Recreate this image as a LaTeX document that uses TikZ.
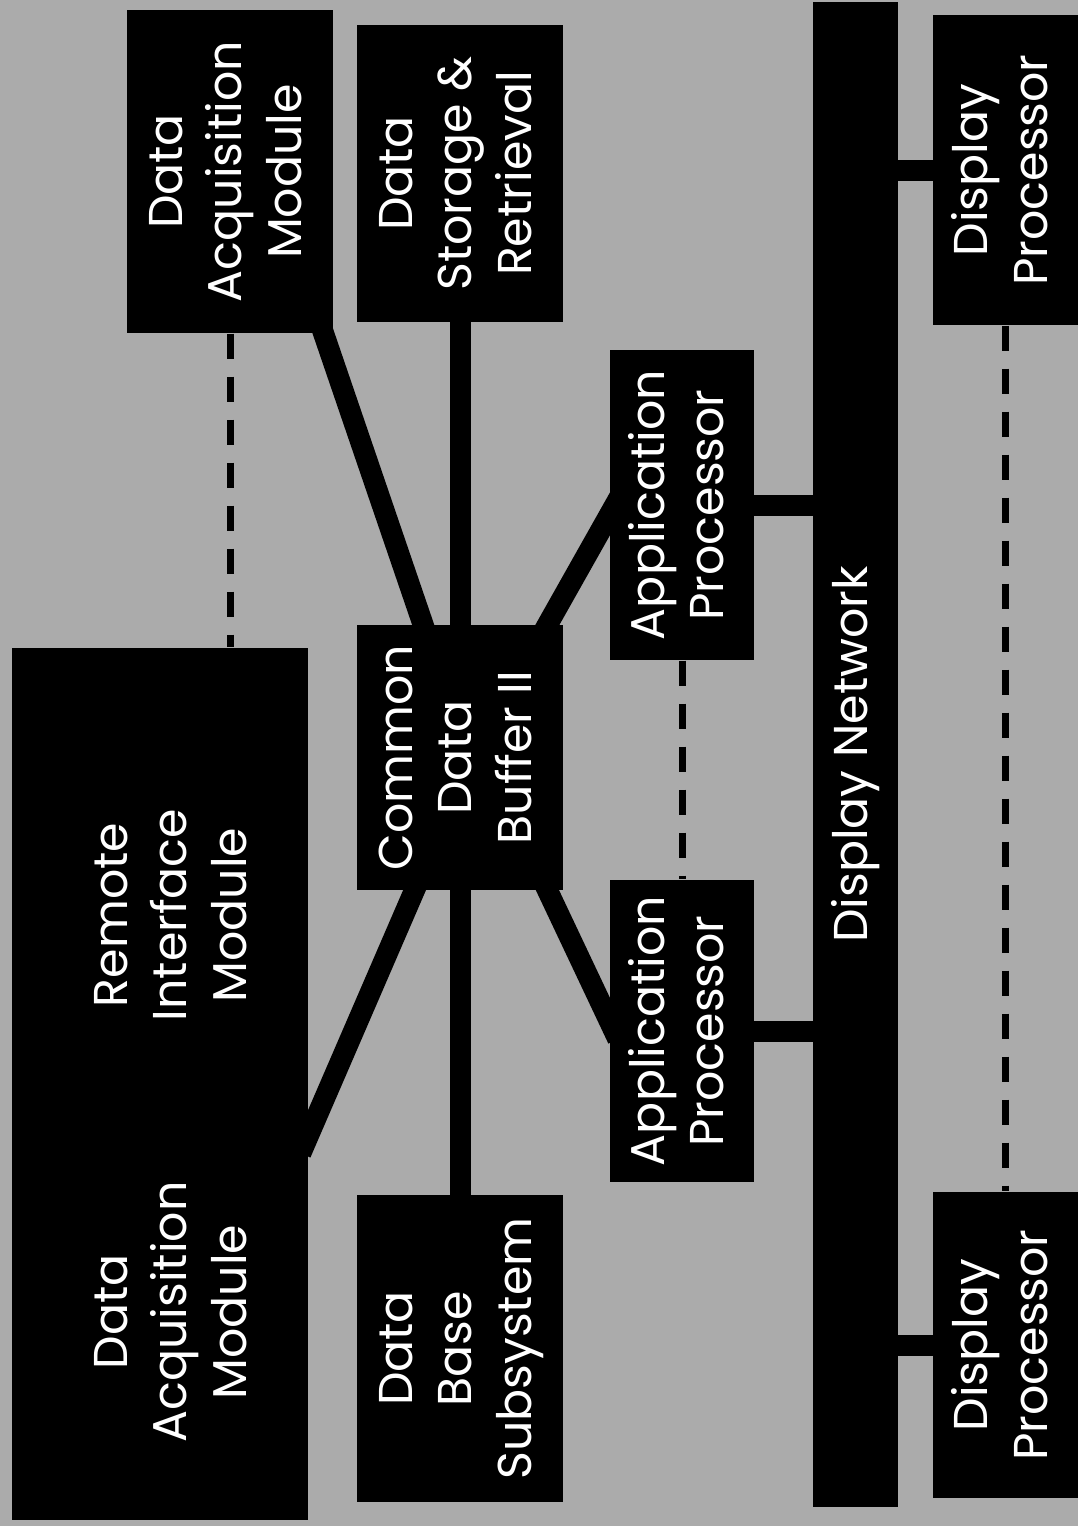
\documentclass[tikz,border=0pt]{standalone}
\usepackage{fontspec}
\setmainfont{Poppins}
\usetikzlibrary{backgrounds}

\tikzset{
  unit/.style={fill=black, text=white, inner sep=0pt, font=\fontsize{13.5}{17}\selectfont},
  bus/.style={line width=0.21cm, shorten <=-0.2cm, shorten >=-0.2cm},
  tie/.style={line width=0.07cm, dash pattern=on 0.25cm off 0.18cm},
}
\newcommand{\up}[1]{\rotatebox{90}{\begin{tabular}{@{}c@{}}#1\end{tabular}}}

\begin{document}
\begin{tikzpicture}
    \useasboundingbox (0,0) rectangle (10.78,-15.26);

    \node[unit, minimum width=2.96cm, minimum height=8.72cm] (rim) at (1.60,-10.84) {};
    \node[unit, fill=none] (dlabel) at (1.75,-13.12) {\up{Data\\Acquisition\\Module}};
    \node[unit, fill=none] (rlabel) at (1.75,-9.15) {\up{Remote\\Interface\\Module}};

    \node[unit, minimum width=2.06cm, minimum height=3.23cm] (dam) at (2.30,-1.715) {\up{Data\\Acquisition\\Module}};
    \node[unit, minimum width=2.06cm, minimum height=2.97cm] (dsr) at (4.60,-1.735) {\up{Data\\Storage \&\\Retrieval}};
    \node[unit, minimum width=2.06cm, minimum height=2.65cm] (cdb) at (4.60,-7.575) {\up{Common\\Data\\Buffer II}};
    \node[unit, minimum width=2.06cm, minimum height=3.07cm] (dbs) at (4.60,-13.485) {\up{Data\\Base\\Subsystem}};

    \node[unit, minimum width=1.44cm, minimum height=3.10cm] (apu) at (6.82,-5.05) {\up{Application\\Processor}};
    \node[unit, minimum width=1.44cm, minimum height=3.02cm] (apl) at (6.82,-10.31) {\up{Application\\Processor}};

    \node[unit, minimum width=0.85cm, minimum height=15.05cm] (net) at (8.555,-7.545) {\up{Display Network}};

    \node[unit, minimum width=1.45cm, minimum height=3.10cm] (dpt) at (10.055,-1.70) {\up{Display\\Processor}};
    \node[unit, minimum width=1.45cm, minimum height=3.06cm] (dpb) at (10.055,-13.45) {\up{Display\\Processor}};

    \begin{scope}[on background layer]
        \fill[black!33] (0,0) rectangle (10.78,-15.26);
        \draw[bus] ([xshift=-0.10cm]dam.south east) -- ([xshift=-0.37cm]cdb.north);
        \draw[bus] (dsr.south) -- (cdb.north);
        \draw[bus] ([xshift=-0.16cm]cdb.north east) -- ([yshift=-0.1cm]apu.west);
        \draw[bus] ([xshift=-0.16cm]cdb.south east) -- ([yshift=0.1cm]apl.west);
        \draw[bus] (cdb.south) -- (dbs.north);
        \draw[bus] ([xshift=0.58cm]cdb.south west) -- ([yshift=-0.51cm]rim.east);
        \draw[bus] (apu.east) -- (apu.east -| net.west);
        \draw[bus] (apl.east) -- (apl.east -| net.west);
        \draw[bus] (dpt.west -| net.east) -- (dpt.west);
        \draw[bus] (dpb.west -| net.east) -- (dpb.west);
    \end{scope}

    \draw[tie] (dam.south) -- (dam.south |- rim.north);
    \draw[tie] (apu.south) -- (apl.north);
    \draw[tie] (dpt.south) -- (dpb.north);
\end{tikzpicture}
\end{document}
